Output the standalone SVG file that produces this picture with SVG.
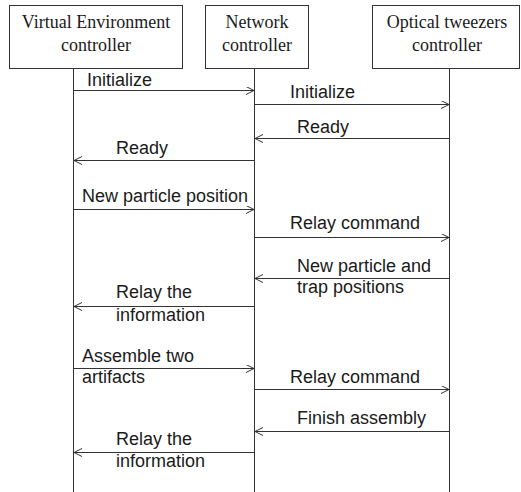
<svg xmlns="http://www.w3.org/2000/svg" width="521" height="492" viewBox="0 0 521 492">
  <style>
    .box { fill: #ffffff; stroke: #333333; stroke-width: 1; }
    .title { font-family: "Liberation Serif", "Times New Roman", serif; font-size: 18px; fill: #1a1a1a; text-anchor: middle; }
    .life { stroke: #333333; stroke-width: 1; fill: none; }
    .msg { stroke: #333333; stroke-width: 1; fill: none; marker-end: url(#open); }
    .label { font-family: "Liberation Sans", Arial, sans-serif; font-size: 18px; fill: #1a1a1a; }
  </style>
  <defs>
    <marker id="open" markerUnits="userSpaceOnUse" markerWidth="10" markerHeight="10" refX="8" refY="4" orient="auto">
      <path d="M0,0 L8,4 L0,8" fill="none" stroke="#333333" stroke-width="1"/>
    </marker>
  </defs>

  <rect width="521" height="492" fill="#ffffff"/>

  <!-- participants -->
  <g id="ve-controller">
    <rect class="box" x="9.5" y="5.5" width="173" height="63"/>
    <text class="title" x="96" y="28">Virtual Environment</text>
    <text class="title" x="96" y="51">controller</text>
    <line class="life" x1="73.5" y1="68.5" x2="73.5" y2="492"/>
  </g>
  <g id="network-controller">
    <rect class="box" x="205.5" y="5.5" width="103" height="63"/>
    <text class="title" x="257" y="28">Network</text>
    <text class="title" x="257" y="51">controller</text>
    <line class="life" x1="254.5" y1="68.5" x2="254.5" y2="492"/>
  </g>
  <g id="ot-controller">
    <rect class="box" x="372.5" y="5.5" width="147" height="63"/>
    <text class="title" x="447" y="28">Optical tweezers</text>
    <text class="title" x="447" y="51">controller</text>
    <line class="life" x1="449.5" y1="68.5" x2="449.5" y2="492"/>
  </g>

  <!-- messages -->
  <g id="messages">
    <line class="msg" x1="73.5" y1="90.5" x2="254" y2="90.5"/>
    <line class="msg" x1="254.5" y1="104.5" x2="449" y2="104.5"/>
    <line class="msg" x1="449.5" y1="138.5" x2="255" y2="138.5"/>
    <line class="msg" x1="254.5" y1="160.5" x2="74" y2="160.5"/>
    <line class="msg" x1="73.5" y1="209.5" x2="254" y2="209.5"/>
    <line class="msg" x1="254.5" y1="237.5" x2="449" y2="237.5"/>
    <line class="msg" x1="449.5" y1="278.5" x2="255" y2="278.5"/>
    <line class="msg" x1="254.5" y1="306.5" x2="74" y2="306.5"/>
    <line class="msg" x1="73.5" y1="368.5" x2="254" y2="368.5"/>
    <line class="msg" x1="254.5" y1="389.5" x2="449" y2="389.5"/>
    <line class="msg" x1="449.5" y1="431.5" x2="255" y2="431.5"/>
    <line class="msg" x1="254.5" y1="452.5" x2="74" y2="452.5"/>
  </g>

  <!-- message labels -->
  <g id="labels">
    <text class="label" x="87" y="86">Initialize</text>
    <text class="label" x="290" y="98">Initialize</text>
    <text class="label" x="297" y="133">Ready</text>
    <text class="label" x="116" y="154">Ready</text>
    <text class="label" x="82" y="202">New particle position</text>
    <text class="label" x="290" y="229">Relay command</text>
    <text class="label" x="297" y="272">New particle and</text>
    <text class="label" x="297" y="293">trap positions</text>
    <text class="label" x="116" y="298">Relay the</text>
    <text class="label" x="116" y="321">information</text>
    <text class="label" x="82" y="362">Assemble two</text>
    <text class="label" x="82" y="383">artifacts</text>
    <text class="label" x="290" y="383">Relay command</text>
    <text class="label" x="297" y="424">Finish assembly</text>
    <text class="label" x="116" y="445">Relay the</text>
    <text class="label" x="116" y="467">information</text>
  </g>
</svg>
